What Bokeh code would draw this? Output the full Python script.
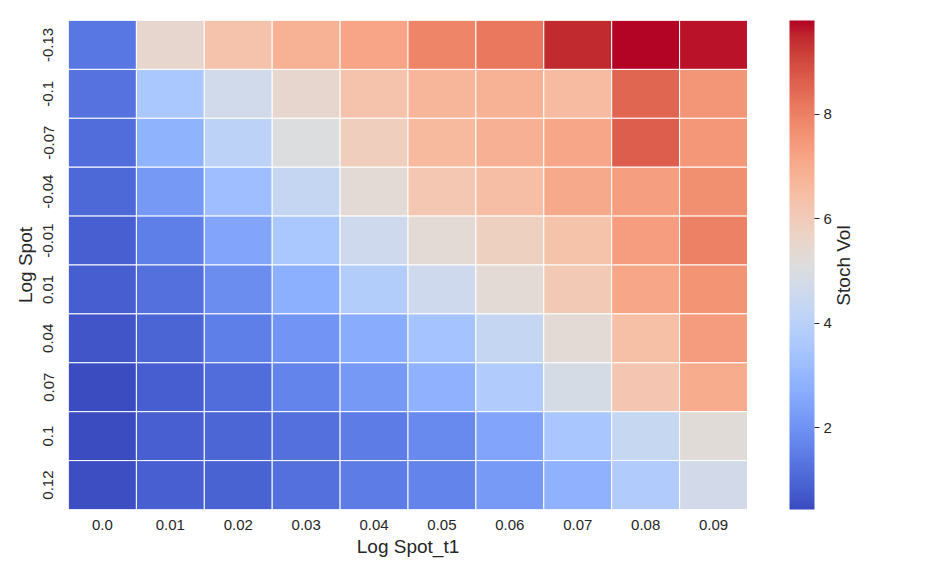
import numpy as np
from bokeh.plotting import figure
from bokeh.layouts import row
from bokeh.models import (ColumnDataSource, LinearColorMapper, ColorBar, FixedTicker,
                          FactorRange, Range1d, Label)
from bokeh.embed import file_html
from bokeh.resources import INLINE

# ---- data ----
x_labels = ["0.0", "0.01", "0.02", "0.03", "0.04", "0.05", "0.06", "0.07", "0.08", "0.09"]
y_labels = ["-0.13", "-0.1", "-0.07", "-0.04", "-0.01", "0.01", "0.04", "0.07", "0.1", "0.12"]

vol_m013 = [1.37, 5.49, 6.29, 6.85, 7.20, 7.90, 8.16, 9.47, 9.80, 9.66]
vol_m010 = [1.27, 3.57, 4.65, 5.50, 6.30, 6.70, 6.85, 6.57, 8.49, 7.55]
vol_m007 = [1.13, 2.87, 4.08, 5.10, 5.90, 6.60, 6.90, 7.13, 8.63, 7.50]
vol_m004 = [1.04, 2.16, 3.24, 4.32, 5.30, 6.15, 6.50, 7.08, 7.32, 7.70]
vol_m001 = [0.85, 1.55, 2.49, 3.57, 4.60, 5.30, 5.82, 6.33, 7.36, 7.97]
vol_p001 = [0.80, 1.23, 1.88, 2.77, 3.80, 4.60, 5.30, 6.10, 7.13, 7.60]
vol_p004 = [0.62, 0.95, 1.55, 2.07, 2.68, 3.43, 4.32, 5.30, 6.43, 7.41]
vol_p007 = [0.43, 0.80, 1.13, 1.65, 2.16, 2.82, 3.76, 4.83, 6.19, 7.00]
vol_p010 = [0.44, 0.85, 0.99, 1.23, 1.46, 1.79, 2.49, 3.52, 4.37, 5.26]
vol_p012 = [0.48, 0.85, 0.93, 1.23, 1.46, 1.65, 2.20, 2.82, 3.76, 4.74]

cbar_ticks = [2, 4, 6, 8]

rows = [vol_m013, vol_m010, vol_m007, vol_m004, vol_m001,
        vol_p001, vol_p004, vol_p007, vol_p010, vol_p012]

# ---- coolwarm palette (Moreland diverging map) ----
_cw = [(59,76,192),(68,90,204),(77,104,215),(87,117,225),(98,130,234),(108,142,241),
       (119,154,247),(130,165,251),(141,176,254),(152,185,255),(163,194,255),(174,201,253),
       (184,208,249),(194,213,244),(204,217,238),(213,219,230),(221,221,221),(229,216,209),
       (236,211,197),(241,204,185),(245,196,173),(247,187,160),(247,177,148),(247,166,135),
       (244,154,123),(241,141,111),(236,127,99),(229,112,88),(222,96,77),(213,80,66),
       (203,62,56),(192,40,47),(180,4,38)]
_cw = np.array(_cw, dtype=float)
_pos = np.linspace(0, 1, len(_cw))
_t = np.linspace(0, 1, 256)
palette = ["#%02x%02x%02x" % tuple(int(round(np.interp(t, _pos, _cw[:, k]))) for k in range(3))
           for t in _t]

xs, ys, vs = [], [], []
for yl, r in zip(y_labels, rows):
    for xl, v in zip(x_labels, r):
        xs.append(xl); ys.append(yl); vs.append(v)
src = ColumnDataSource(dict(x=xs, y=ys, v=vs))

all_vals = [v for r in rows for v in r]
mapper = LinearColorMapper(palette=palette, low=min(all_vals), high=max(all_vals))

FONT = "Liberation Sans"
TXT = "#262626"
FW, FH = 679, 489
TOP, BOTTOM = 20, 52

p = figure(x_range=FactorRange(*x_labels), y_range=FactorRange(*list(reversed(y_labels))),
           frame_width=FW, frame_height=FH, output_backend="svg", toolbar_location=None,
           min_border_left=68, min_border_top=TOP, min_border_bottom=BOTTOM, min_border_right=0)

p.rect(x="x", y="y", width=1, height=1, source=src,
       fill_color={"field": "v", "transform": mapper}, line_color="white", line_width=1)

p.outline_line_color = None
p.grid.grid_line_color = None
for ax in (p.xaxis, p.yaxis):
    ax.axis_line_color = None
    ax.major_tick_line_color = None
    ax.minor_tick_line_color = None
    ax.major_label_text_font = FONT
    ax.major_label_text_font_size = "15px"
    ax.major_label_text_color = TXT
    ax.axis_label_text_font = FONT
    ax.axis_label_text_font_size = "19px"
    ax.axis_label_text_font_style = "normal"
    ax.axis_label_text_color = TXT

p.xaxis.axis_label = "Log Spot_t1"
p.yaxis.axis_label = "Log Spot"
p.xaxis.major_label_standoff = 4
p.xaxis.axis_label_standoff = 3
p.yaxis.major_label_orientation = "vertical"
p.yaxis.major_label_standoff = 9
p.yaxis.axis_label_standoff = 5

# ---- colour bar panel ----
p2 = figure(x_range=Range1d(0, 1), y_range=Range1d(0, 1),
            frame_width=100, frame_height=FH, output_backend="svg", toolbar_location=None,
            x_axis_location=None, y_axis_location=None,
            min_border_left=42, min_border_top=TOP, min_border_bottom=BOTTOM, min_border_right=0)
p2.outline_line_color = None
p2.grid.grid_line_color = None

cb = ColorBar(color_mapper=mapper, ticker=FixedTicker(ticks=cbar_ticks),
              width=25, height=FH, padding=0, margin=0, location=(0, 0),
              major_tick_in=0, major_tick_out=5, major_tick_line_color=TXT,
              major_label_text_font=FONT, major_label_text_font_size="15px",
              major_label_text_color=TXT, label_standoff=4,
              bar_line_color=None, border_line_color=None, background_fill_color=None)
p2.add_layout(cb, "center")

lbl = Label(x=54, y=244, x_units="screen", y_units="screen", text="Stoch Vol",
            angle=np.pi / 2, text_align="center", text_baseline="middle",
            text_font=FONT, text_font_size="19px", text_color=TXT)
p2.add_layout(lbl)

layout = row(p, p2)
open("out.html", "w").write(file_html(layout, INLINE))
